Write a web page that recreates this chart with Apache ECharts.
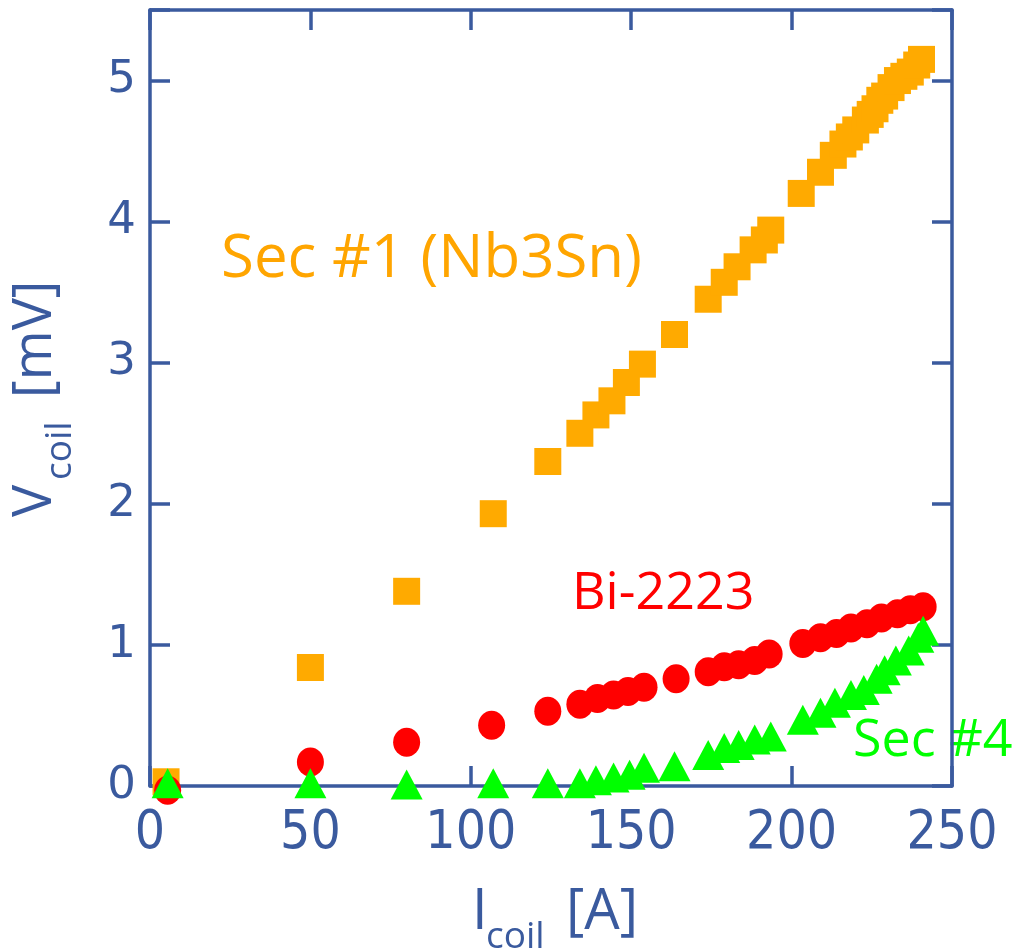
<!DOCTYPE html>
<html>
<head>
<meta charset="utf-8">
<script src="https://cdn.jsdelivr.net/npm/echarts@6/dist/echarts.min.js"></script>
<style>html,body{margin:0;padding:0;background:#fff}#c{width:1017px;height:948px}</style>
</head>
<body>
<div id="c"></div>
<script>
// Sec #1 (Nb3Sn) - orange squares
const sec1I = [5, 50, 80, 107, 124, 134, 139, 144, 148.5, 153.5, 163.5, 174, 179, 183, 188, 191.5, 193.5, 203, 209, 213, 216, 218, 220, 223, 224.5, 226, 227.5, 229, 231, 233, 235, 237, 239, 240.5];
const sec1V = [0.03, 0.84, 1.38, 1.93, 2.30, 2.50, 2.63, 2.73, 2.86, 2.99, 3.20, 3.45, 3.57, 3.68, 3.80, 3.87, 3.94, 4.20, 4.35, 4.47, 4.55, 4.60, 4.65, 4.72, 4.76, 4.80, 4.86, 4.89, 4.95, 5.00, 5.03, 5.06, 5.11, 5.15];
// Bi-2223 - red circles
const biI = [5.5, 50, 80, 106.5, 124, 134, 139.5, 144.5, 149, 154, 164, 174, 179, 183.5, 188.5, 193, 203.5, 209, 214, 218.5, 223.5, 228, 233, 237, 241];
const biV = [-0.03, 0.17, 0.31, 0.43, 0.53, 0.58, 0.62, 0.645, 0.67, 0.70, 0.76, 0.81, 0.845, 0.86, 0.89, 0.935, 1.01, 1.05, 1.08, 1.12, 1.15, 1.19, 1.22, 1.25, 1.27];
// Sec #4 - green triangles
const sec4I = [5.5, 50, 80, 107, 124, 134, 139, 144.5, 149.5, 154, 163.5, 174, 179, 183.5, 188.5, 193.5, 203.5, 209, 213.5, 218.5, 222.5, 226.5, 229, 232.5, 236.5, 239.5, 241];
const sec4V = [0.02, 0.02, 0.01, 0.02, 0.02, 0.02, 0.04, 0.06, 0.08, 0.13, 0.14, 0.22, 0.27, 0.29, 0.33, 0.35, 0.47, 0.52, 0.59, 0.645, 0.68, 0.76, 0.82, 0.89, 0.96, 1.05, 1.10];
const xTicks = [0, 50, 100, 150, 200, 250];
const yTicks = [0, 1, 2, 3, 4, 5];
const labelSec1 = 'Sec #1 (Nb3Sn)';
const labelBi = 'Bi-2223';
const labelSec4 = 'Sec #4';

const BLUE = '#3a5a9e';
const zip = (a, b) => a.map((v, i) => [v, b[i]]);

const chart = echarts.init(document.getElementById('c'), null, {renderer: 'canvas'});
const axisCommon = {
  type: 'value',
  axisLine: {show: true, onZero: false, lineStyle: {color: BLUE, width: 3.5}},
  axisTick: {show: true, inside: true, length: 20, lineStyle: {color: BLUE, width: 3.5}},
  splitLine: {show: false}
};
const intFmt = v => (Math.abs(v - Math.round(v)) < 1e-9 ? String(Math.round(v)) : '');
const ff = "'Open Sans', sans-serif";

function txt(x, y, text, size, color, extra) {
  return Object.assign({
    type: 'text', x: x, y: y,
    style: {text: text, fill: color, font: size + 'px ' + ff, align: 'left', verticalAlign: 'middle'}
  }, extra || {});
}

chart.setOption({
  animation: false,
  grid: {left: 150, right: 65, top: 10, bottom: 162, containLabel: false},
  xAxis: [
    Object.assign({}, axisCommon, {
      min: 0, max: 250, interval: 50, position: 'bottom',
      axisLabel: {show: true, color: BLUE, fontSize: 53, fontFamily: "'DejaVu Sans Condensed', 'DejaVu Sans'", margin: 22}
    }),
    Object.assign({}, axisCommon, {
      min: 0, max: 250, interval: 50, position: 'top', axisLabel: {show: false}
    })
  ],
  yAxis: [
    Object.assign({}, axisCommon, {
      min: 0, max: 5.5, interval: 1, position: 'left',
      axisLabel: {show: true, color: BLUE, fontSize: 45, fontFamily: "'DejaVu Sans'", margin: 14, formatter: intFmt}
    }),
    Object.assign({}, axisCommon, {
      min: 0, max: 5.5, interval: 1, position: 'right', axisLabel: {show: false}
    })
  ],
  series: [
    {type: 'scatter', name: labelSec1, data: zip(sec1I, sec1V), symbol: 'rect', symbolSize: 27, clip: false,
      itemStyle: {color: '#ffaa00', opacity: 1}},
    {type: 'scatter', name: labelBi, data: zip(biI, biV), symbol: 'circle', symbolSize: [27, 29], clip: false,
      itemStyle: {color: '#ff0000', opacity: 1}},
    {type: 'scatter', name: labelSec4, data: zip(sec4I, sec4V), symbol: 'triangle', symbolSize: [32, 30], clip: false,
      itemStyle: {color: '#00ff00', opacity: 1}}
  ],
  graphic: [
    txt(221, 260, labelSec1, 60, '#ffa500'),
    txt(572, 594, labelBi, 52, '#ff0000'),
    txt(853, 741, labelSec4, 52, '#00ff00'),
    // x axis title I_coil [A]
    txt(472, 933 - 20, 'I', 56, BLUE),
    txt(486, 947 - 10, 'coil', 37, BLUE),
    txt(566, 933 - 20, '[A]', 56, BLUE),
    // y axis title V_coil [mV] rotated
    {type: 'group', x: 55, y: 517, rotation: Math.PI / 2, children: [
      txt(0, -19, 'V', 54, BLUE),
      txt(37, 15 - 10, 'coil', 37, BLUE),
      txt(119, -19, '[mV]', 54, BLUE)
    ]}
  ]
});
</script>
</body>
</html>
